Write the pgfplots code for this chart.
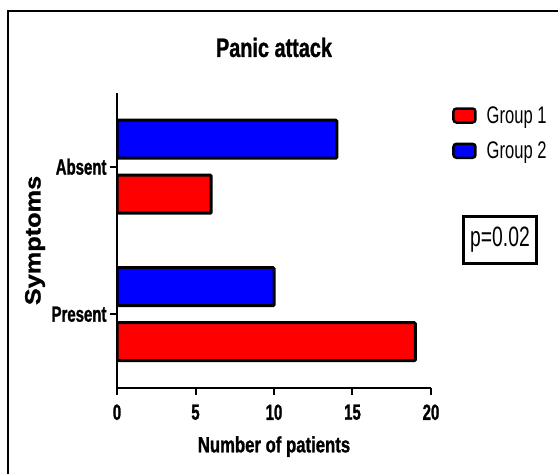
\documentclass[border=0pt]{standalone}
\usepackage{fontspec}
\setmainfont{Liberation Sans}
\newfontfamily\titlef[FakeStretch=0.75, BoldFeatures={FakeBold=1.2}]{Liberation Sans}
\newfontfamily\labf[FakeStretch=0.76, BoldFeatures={FakeBold=1.2}]{Liberation Sans}
\newfontfamily\tickf[FakeStretch=0.68, BoldFeatures={FakeBold=1.2}]{Liberation Sans}
\newfontfamily\legf[FakeStretch=0.69]{Liberation Sans}
\newfontfamily\yf[FakeStretch=1.15, BoldFeatures={FakeBold=1.2}]{Liberation Sans}
\usepackage{pgfplots}
\pgfplotsset{compat=1.18}
\begin{document}
\begin{tikzpicture}[x=1pt,y=1pt]
\draw[line width=2.2pt] (8,0) -- (8,463) -- (558,463);
\begin{axis}[
  at={(117pt,86pt)}, anchor=south west,
  scale only axis, width=314pt, height=295pt,
  xbar, xmin=0, xmax=20, ymin=-0.5, ymax=1.5,
  axis x line*=bottom, axis y line*=left,
  axis line style={line width=2pt},
  xtick={0,5,10,15,20},
  ytick={0,1}, yticklabels={Present,Absent},
  tick align=outside, major tick length=7pt,
  tick style={line width=2pt, black},
  /pgf/number format/assume math mode=true,
  ticklabel style={font=\tickf\bfseries\fontsize{22}{26}\selectfont},
  xticklabel style={yshift=-6pt},
  bar width=38pt,
  title={Panic attack},
  title style={at={(0.5,1.102)}, anchor=base, font=\titlef\bfseries\fontsize{26.5}{31}\selectfont},
  xlabel={Number of patients},
  xlabel style={at={(0.5,-0.218)}, anchor=base, font=\labf\bfseries\fontsize{22}{26}\selectfont},
  ylabel={Symptoms},
  ylabel style={at={(-0.261,0.5)}, anchor=center, rotate=0, font=\yf\bfseries\fontsize{22}{26}\selectfont},
  legend image code/.code={\draw[#1, rounded corners=3pt, line width=2.5pt] (0pt,-7pt) rectangle (22pt,7pt);},
  legend style={at={(1.067,0.962)}, anchor=north west, draw=none, fill=none, inner sep=0pt,
    font=\legf\fontsize{24}{28}\selectfont, row sep=13pt,
    /tikz/every odd column/.append style={column sep=8pt}},
  legend cell align=left,
]
\addplot[fill=red, draw=black, line width=3pt, rounded corners=1pt, bar shift=-27.5pt] coordinates {(19,0) (6,1)};
\addplot[fill=blue, draw=black, line width=3pt, rounded corners=1pt, bar shift=27.5pt] coordinates {(10,0) (14,1)};
\legend{Group 1, Group 2}
\end{axis}
\node[draw, line width=2.2pt, minimum width=73pt, minimum height=47pt, inner sep=0pt,
  font=\legf\fontsize{28}{32}\selectfont] at (500,234) {p=0.02};
\pgfresetboundingbox
\path[use as bounding box] (0,0) rectangle (558,474);
\end{tikzpicture}
\end{document}
